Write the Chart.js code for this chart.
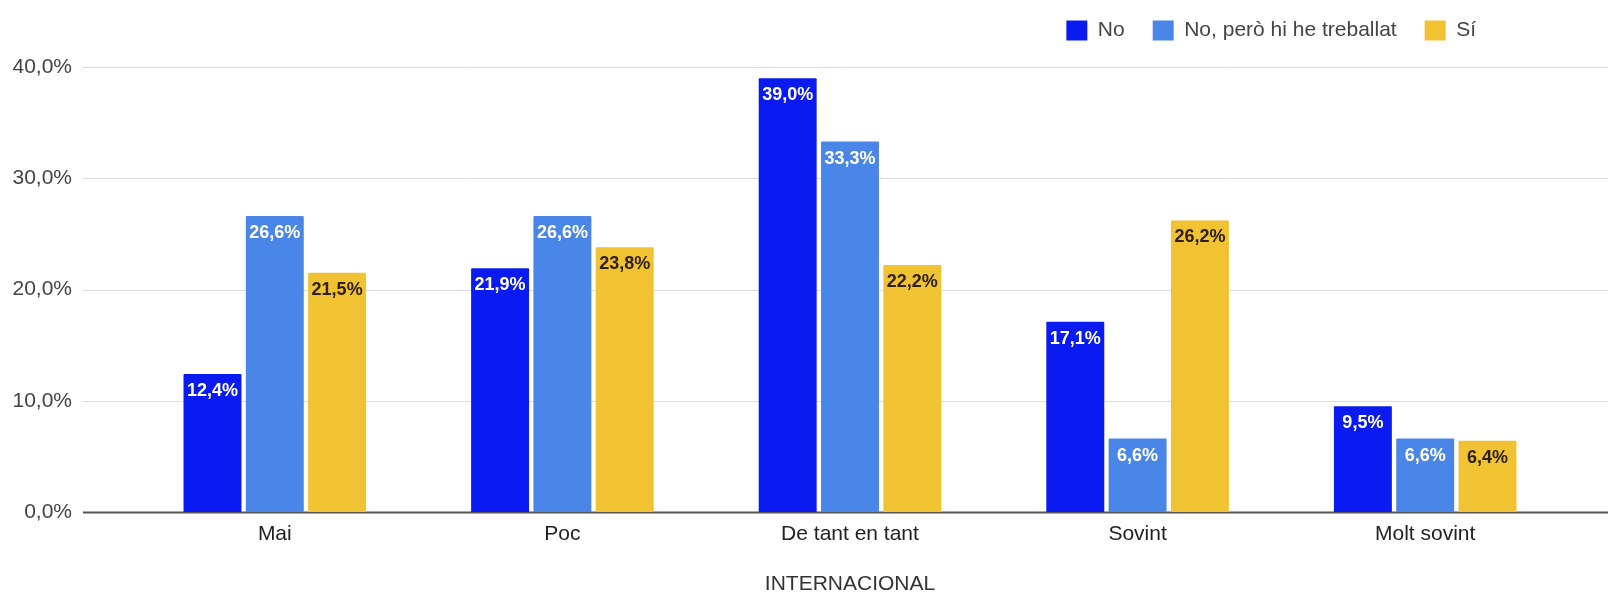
<!DOCTYPE html>
<html>
<head>
<meta charset="utf-8">
<script src="https://cdn.jsdelivr.net/npm/chart.js@4"></script>
<style>
  html, body { margin: 0; padding: 0; background: #fff; }
</style>
</head>
<body>
<canvas id="chart" width="1608" height="593"></canvas>
<script>
const categories = ['Mai', 'Poc', 'De tant en tant', 'Sovint', 'Molt sovint'];
const seriesNames = ['No', 'No, però hi he treballat', 'Sí'];
const valuesNo = [12.4, 21.9, 39.0, 17.1, 9.5];
const valuesNoPero = [26.6, 26.6, 33.3, 6.6, 6.6];
const valuesSi = [21.5, 23.8, 22.2, 26.2, 6.4];
const yTicks = [0, 10, 20, 30, 40];
const axisTitle = 'INTERNACIONAL';

const barColors = ['#0a1bf2', '#4a86e8', '#f1c232'];
const labelColors = ['#ffffff', '#ffffff', '#2e2200'];
const FONT = "'Liberation Sans', Arial, sans-serif";

const pct = v => v.toFixed(1).replace('.', ',') + '%';

// horizontal grid lines run wider than the category area
const gridLines = {
  id: 'gridLines',
  beforeDatasetsDraw(chart) {
    const { ctx, chartArea, scales } = chart;
    const x0 = chartArea.left - 48;
    const x1 = chart.width;
    ctx.save();
    yTicks.forEach(v => {
      const y = Math.round(scales.y.getPixelForValue(v)) + 0.5;
      ctx.beginPath();
      ctx.moveTo(x0, y);
      ctx.lineTo(x1, y);
      ctx.lineWidth = v === 0 ? 2 : 1;
      ctx.strokeStyle = v === 0 ? '#555555' : '#dcdcdc';
      ctx.stroke();
    });
    ctx.restore();
  }
};

// value labels inside the top of each bar
const barLabels = {
  id: 'barLabels',
  afterDatasetsDraw(chart) {
    const ctx = chart.ctx;
    ctx.save();
    ctx.font = 'bold 18px ' + FONT;
    ctx.textAlign = 'center';
    ctx.textBaseline = 'middle';
    chart.data.datasets.forEach((ds, i) => {
      chart.getDatasetMeta(i).data.forEach((bar, j) => {
        ctx.fillStyle = labelColors[i];
        ctx.fillText(pct(ds.data[j]), bar.x, bar.y + 17);
      });
    });
    ctx.restore();
  }
};

// move legend up and in from the right edge
const legendPlace = {
  id: 'legendPlace',
  afterLayout(chart) {
    const lg = chart.legend;
    lg.top -= 16;
    lg.bottom -= 16;
    lg.right -= 65;
  }
};

new Chart(document.getElementById('chart'), {
  type: 'bar',
  data: {
    labels: categories,
    datasets: [
      { label: seriesNames[0], data: valuesNo, backgroundColor: barColors[0] },
      { label: seriesNames[1], data: valuesNoPero, backgroundColor: barColors[1] },
      { label: seriesNames[2], data: valuesSi, backgroundColor: barColors[2] }
    ]
  },
  options: {
    responsive: false,
    animation: false,
    devicePixelRatio: 1,
    layout: { padding: { top: 8, right: 39, bottom: 0, left: 0 } },
    datasets: {
      bar: { categoryPercentage: 0.65, barPercentage: 0.93, borderRadius: 1 }
    },
    plugins: {
      legend: {
        position: 'top',
        align: 'end',
        labels: {
          boxWidth: 21,
          boxHeight: 20,
          padding: 28,
          color: '#444',
          font: { family: FONT, size: 21 }
        }
      },
      tooltip: { enabled: false }
    },
    scales: {
      x: {
        grid: { display: false, drawTicks: false },
        border: { display: false },
        ticks: { color: '#222', padding: 10, font: { family: FONT, size: 21 } },
        title: {
          display: true,
          text: axisTitle,
          color: '#333',
          padding: { top: 19, bottom: 0 },
          font: { family: FONT, size: 21, lineHeight: 0.8 }
        }
      },
      y: {
        min: 0,
        max: 40,
        grid: { display: false, drawTicks: false },
        border: { display: false },
        afterFit(scale) {
          scale.width = 131;
          scale.paddingTop = 0;
          scale.paddingBottom = 0;
        },
        afterBuildTicks(scale) { scale.ticks = yTicks.map(v => ({ value: v })); },
        ticks: {
          color: '#444',
          padding: 59,
          font: { family: FONT, size: 21 },
          callback: v => pct(v)
        }
      }
    }
  },
  plugins: [gridLines, barLabels, legendPlace]
});
</script>
</body>
</html>
